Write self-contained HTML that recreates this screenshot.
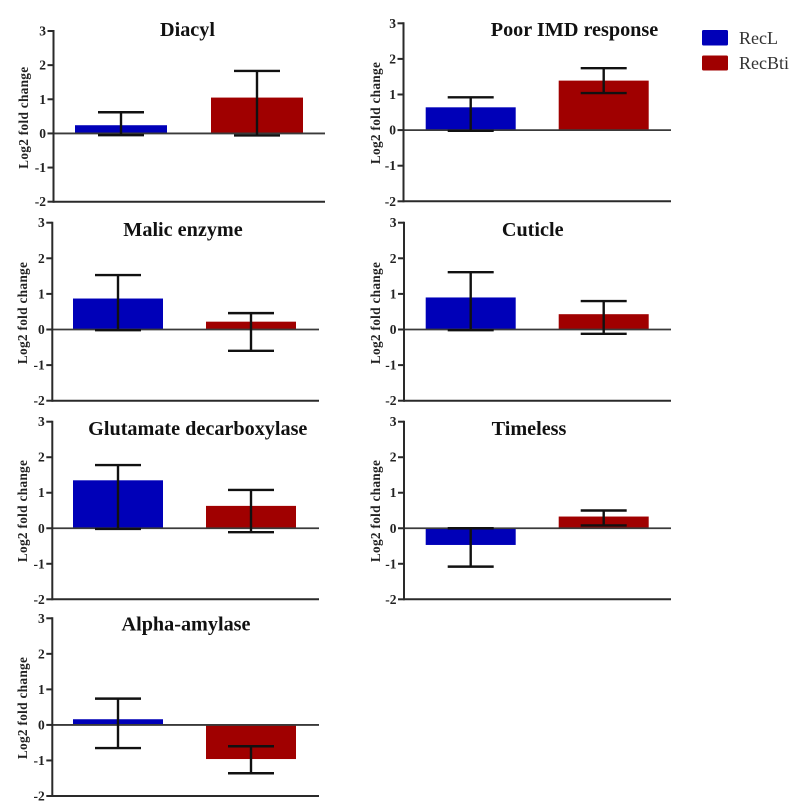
<!DOCTYPE html>
<html lang="en">
<head>
<meta charset="utf-8">
<title>Log2 fold change by gene</title>
<style>
  html, body { margin: 0; padding: 0; background: #fff; }
  #figure { display: block; width: 799px; height: 810px; }
  text { font-family: "Liberation Serif", serif; }
  .panel-title { font-size: 20.2px; font-weight: bold; fill: #111; text-anchor: middle; }
  .tick-label { font-size: 13.5px; font-weight: bold; fill: #222; text-anchor: end; }
  .y-title { font-size: 13.3px; font-weight: bold; fill: #222; text-anchor: middle; letter-spacing: 0.3px; }
  .legend-label { font-size: 18px; fill: #333; }
</style>
</head>
<body>
<svg id="figure" xmlns="http://www.w3.org/2000/svg" width="799" height="810" viewBox="0 0 799 810">
  <rect width="799" height="810" fill="#fff"/>
  <g>
    <rect x="702" y="30" width="26" height="15.5" rx="1.5" fill="#0000b8"/>
    <text class="legend-label" x="739" y="44">RecL</text>
    <rect x="702" y="55.5" width="26" height="15" rx="1.5" fill="#a00000"/>
    <text class="legend-label" x="739" y="69">RecBti</text>
  </g>
</svg>
<script>
const panelNames = ["Diacyl", "Poor IMD response", "Malic enzyme", "Cuticle", "Glutamate decarboxylase", "Timeless", "Alpha-amylase"];
const seriesNames = ["RecL", "RecBti"];
const recLMeans = [0.24, 0.64, 0.87, 0.90, 1.35, -0.47, 0.16];
const recLUpper = [0.62, 0.92, 1.53, 1.61, 1.78, 0.00, 0.74];
const recLLower = [-0.05, -0.02, -0.02, -0.02, -0.02, -1.08, -0.65];
const recBtiMeans = [1.05, 1.39, 0.22, 0.43, 0.63, 0.33, -0.96];
const recBtiUpper = [1.83, 1.74, 0.46, 0.80, 1.08, 0.50, -0.60];
const recBtiLower = [-0.06, 1.04, -0.60, -0.12, -0.11, 0.08, -1.36];
const yTicks = [3, 2, 1, 0, -1, -2];
const yAxisTitle = "Log2 fold change";

/* Panel frames (layout only, no data) */
const panelFrames = [
  { left: 53.5, top: 31, bottom: 201.7, right: 325, inset: 21.5, barW: 92, step: 136, titleX: 187.5, titleY: 36, labelX: 28, labelY: 117.7 },
  { left: 403.5, top: 23.3, bottom: 201.3, right: 671, inset: 22.2, barW: 90, step: 133, titleX: 574.5, titleY: 36, labelX: 380, labelY: 113 },
  { left: 52.3, top: 222.7, bottom: 400.7, right: 319, inset: 20.7, barW: 90, step: 133, titleX: 183, titleY: 236, labelX: 27, labelY: 313 },
  { left: 404, top: 222.7, bottom: 400.7, right: 671, inset: 21.7, barW: 90, step: 133, titleX: 532.7, titleY: 236, labelX: 380, labelY: 313 },
  { left: 52.3, top: 421.7, bottom: 599.3, right: 319, inset: 20.7, barW: 90, step: 133, titleX: 197.8, titleY: 435, labelX: 27, labelY: 511 },
  { left: 404, top: 421.7, bottom: 599.3, right: 671, inset: 21.7, barW: 90, step: 133, titleX: 529, titleY: 435, labelX: 380, labelY: 511 },
  { left: 52.3, top: 618.3, bottom: 796, right: 319, inset: 20.7, barW: 90, step: 133, titleX: 186, titleY: 630.7, labelX: 27, labelY: 708 }
];
const seriesColors = ["#0000b8", "#a00000"];
const axisColor = "#2a2a2a";
const zeroColor = "#3a3a3a";
const errorColor = "#111";
const capHalf = 23;
const yDomainMax = 3;
const yDomainMin = -2;

const svg = document.getElementById("figure");
const NS = "http://www.w3.org/2000/svg";

function make(tag, attrs, parent) {
  const el = document.createElementNS(NS, tag);
  for (const k in attrs) el.setAttribute(k, attrs[k]);
  parent.appendChild(el);
  return el;
}
function yScale(frame, value) {
  return frame.top + (yDomainMax - value) / (yDomainMax - yDomainMin) * (frame.bottom - frame.top);
}
function xBarLeft(frame, seriesIndex) {
  return frame.left + frame.inset + seriesIndex * frame.step;
}

const meansBySeries = [recLMeans, recBtiMeans];
const upperBySeries = [recLUpper, recBtiUpper];
const lowerBySeries = [recLLower, recBtiLower];

panelNames.forEach(function (name, p) {
  const f = panelFrames[p];
  const slug = name.toLowerCase().replace(/[^a-z]+/g, "-");
  const g = make("g", {}, svg);
  
  

  seriesNames.forEach(function (series, s) {
    const mean = meansBySeries[s][p];
    const y0 = yScale(f, 0);
    const y1 = yScale(f, mean);
    const bar = make("rect", {
      x: xBarLeft(f, s),
      y: Math.min(y0, y1),
      width: f.barW,
      height: Math.abs(y1 - y0),
      fill: seriesColors[s]
    }, g);
    
    
  });

  const zero = make("line", {
    x1: f.left, x2: f.right, y1: yScale(f, 0), y2: yScale(f, 0),
    stroke: zeroColor, "stroke-width": 1.8
  }, g);
  
  

  seriesNames.forEach(function (series, s) {
    const cx = xBarLeft(f, s) + f.barW / 2;
    const yHi = yScale(f, upperBySeries[s][p]);
    const yLo = yScale(f, lowerBySeries[s][p]);
    const eg = make("g", { stroke: errorColor, "stroke-width": 2.4, fill: "none" }, g);
    
    
    make("line", { x1: cx, x2: cx, y1: yHi, y2: yLo }, eg);
    make("line", { x1: cx - capHalf, x2: cx + capHalf, y1: yHi, y2: yHi }, eg);
    make("line", { x1: cx - capHalf, x2: cx + capHalf, y1: yLo, y2: yLo }, eg);
  });

  const yAxis = make("line", {
    x1: f.left, x2: f.left, y1: f.top - 1, y2: f.bottom + 1,
    stroke: axisColor, "stroke-width": 2
  }, g);
  
  

  const xAxis = make("line", {
    x1: f.left, x2: f.right, y1: f.bottom, y2: f.bottom,
    stroke: axisColor, "stroke-width": 2
  }, g);
  
  

  yTicks.forEach(function (t) {
    const ty = yScale(f, t);
    const tick = make("line", {
      x1: f.left - 6, x2: f.left, y1: ty, y2: ty,
      stroke: axisColor, "stroke-width": 2
    }, g);
    
    
    const lab = make("text", { class: "tick-label", x: f.left - 7.5, y: ty + 4.5 }, g);
    lab.textContent = String(t);
    
    
  });

  const yTitle = make("text", {
    class: "y-title",
    x: f.labelX, y: f.labelY,
    transform: "rotate(-90 " + f.labelX + " " + f.labelY + ")"
  }, g);
  yTitle.textContent = yAxisTitle;
  
  

  const title = make("text", { class: "panel-title", x: f.titleX, y: f.titleY }, g);
  title.textContent = name;
  
  
});
</script>
</body>
</html>
